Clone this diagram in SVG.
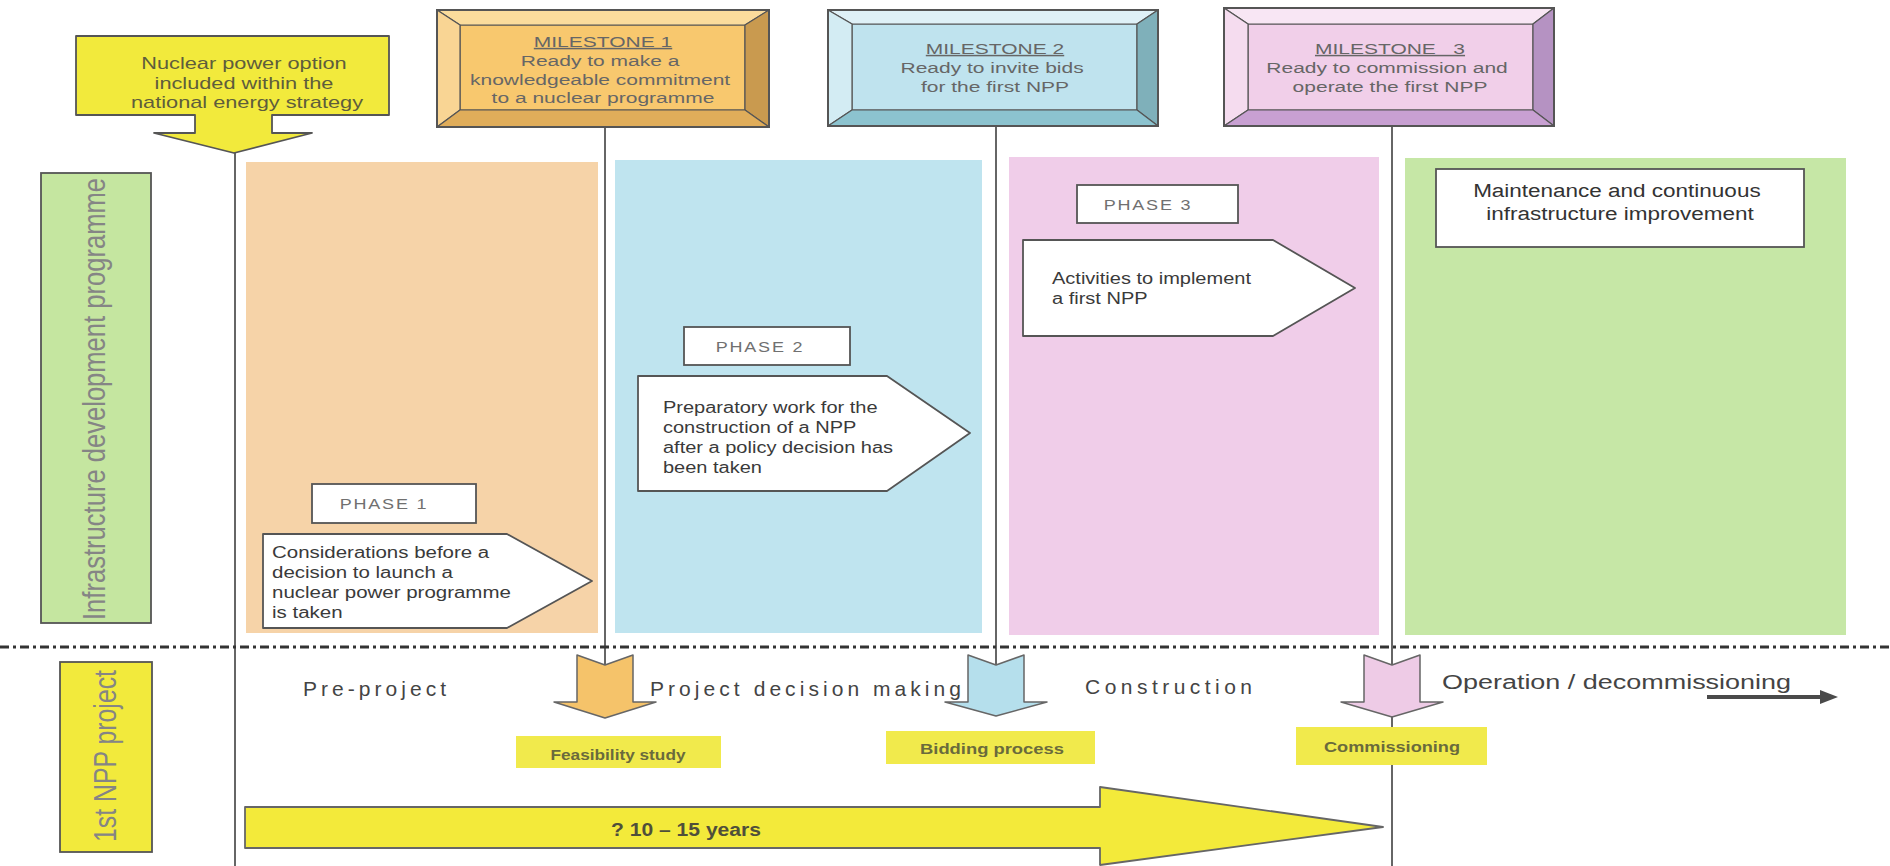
<svg xmlns="http://www.w3.org/2000/svg" width="1890" height="866" viewBox="0 0 1890 866">
<style>
text{font-family:"Liberation Sans",Arial,sans-serif}
.bv{stroke:#555;stroke-width:1.2;stroke-linejoin:round}
.ol{fill:none;stroke:#555;stroke-width:2}
.co{fill:#fff;stroke:#555;stroke-width:1.8;stroke-linejoin:round}
.ct{font-size:16px;fill:#3a3a3a}
.ph{font-size:15px;fill:#707070;letter-spacing:1.5px;text-anchor:middle}
.phb{fill:#fff;stroke:#555;stroke-width:1.8}
.ms{font-size:15px;fill:#666;text-anchor:middle}
.ln{stroke:#333;stroke-width:1.5;fill:none}
.bl{font-size:21px;fill:#444}
.yl{fill:#f1ea4c}
.yt{font-size:15px;font-weight:bold;fill:#6a6a3c;text-anchor:middle}
.vt{font-size:25px;fill:#858585;text-anchor:middle}
.da{stroke:#666;stroke-width:1.5;stroke-linejoin:round}
</style>
<rect width="1890" height="866" fill="#fff"/>

<!-- phase panels -->
<g id="panel-phase1"><rect x="246" y="162" width="352" height="471" fill="#f6d3a8"/></g>
<g id="panel-phase2"><rect x="615" y="160" width="367" height="473" fill="#bfe4ef"/></g>
<g id="panel-phase3"><rect x="1009" y="157" width="370" height="478" fill="#f0cde9"/></g>
<g id="panel-operation"><rect x="1405" y="158" width="441" height="477" fill="#c6e7a6"/></g>

<!-- connectors -->
<g id="connectors">
<line class="ln" x1="235" y1="153" x2="235" y2="866"/>
<line class="ln" x1="605" y1="127" x2="605" y2="665"/>
<line class="ln" x1="996" y1="126" x2="996" y2="665"/>
<line class="ln" x1="1392" y1="126" x2="1392" y2="866"/>
<line x1="0" y1="647" x2="1890" y2="647" stroke="#333" stroke-width="3" stroke-dasharray="9 4 3 4"/>
</g>

<!-- strategy arrow -->
<g id="node-strategy">
<path d="M76,36 H389 V115 H272 V133 H312 L234,153 L154,133 H195 V115 H76 Z" fill="#f2ea3c" stroke="#555" stroke-width="1.8" stroke-linejoin="round"/>
<text transform="matrix(1.36 0 0 1 247 0)" style="font-size:16px;fill:#5e5d3c;text-anchor:middle">
<tspan x="0" y="69">Nuclear power option</tspan>
<tspan x="0" y="89">included within the</tspan>
<tspan x="0" y="108">national energy strategy</tspan>
</text>
</g>

<!-- milestone 1 -->
<g id="node-milestone1">
<rect x="460" y="25" width="285" height="85" fill="#f8c86e" class="bv"/>
<polygon class="bv" points="437,10 769,10 745,25 460,25" fill="#fbdc9c"/>
<polygon class="bv" points="437,10 460,25 460,110 437,127" fill="#f9d594"/>
<polygon class="bv" points="769,10 769,127 745,110 745,25" fill="#c99a4f"/>
<polygon class="bv" points="437,127 460,110 745,110 769,127" fill="#e0ad5a"/>
<rect class="ol" x="437" y="10" width="332" height="117"/>
<text class="ms" transform="matrix(1.4 0 0 1 603 0)" text-decoration="underline" x="0" y="47">MILESTONE 1</text>
<text class="ms" transform="matrix(1.4 0 0 1 603 0)">
<tspan x="0" y="66">Ready to make a</tspan>
<tspan x="0" y="85">knowledgeable commitment</tspan>
<tspan x="0" y="103">to a nuclear programme</tspan>
</text>
</g>

<!-- milestone 2 -->
<g id="node-milestone2">
<rect x="852" y="24" width="285" height="86" fill="#bfe3ee" class="bv"/>
<polygon class="bv" points="828,10 1158,10 1137,24 852,24" fill="#dff1f7"/>
<polygon class="bv" points="828,10 852,24 852,110 828,126" fill="#d3ecf3"/>
<polygon class="bv" points="1158,10 1158,126 1137,110 1137,24" fill="#7fb0ba"/>
<polygon class="bv" points="828,126 852,110 1137,110 1158,126" fill="#8cc3cf"/>
<rect class="ol" x="828" y="10" width="330" height="116"/>
<text class="ms" transform="matrix(1.4 0 0 1 995 0)" text-decoration="underline" x="0" y="54">MILESTONE 2</text>
<text class="ms" transform="matrix(1.4 0 0 1 995 0)">
<tspan x="0" y="73">Ready to invite bids</tspan>
<tspan x="0" y="92">for the first NPP</tspan>
</text>
</g>

<!-- milestone 3 -->
<g id="node-milestone3">
<rect x="1248" y="24" width="285" height="86" fill="#f1cfe9" class="bv"/>
<polygon class="bv" points="1224,8 1554,8 1533,24 1248,24" fill="#f8e6f4"/>
<polygon class="bv" points="1224,8 1248,24 1248,110 1224,126" fill="#f5dcef"/>
<polygon class="bv" points="1554,8 1554,126 1533,110 1533,24" fill="#b592c2"/>
<polygon class="bv" points="1224,126 1248,110 1533,110 1554,126" fill="#c8a0d2"/>
<rect class="ol" x="1224" y="8" width="330" height="118"/>
<text class="ms" transform="matrix(1.4 0 0 1 1390 0)" text-decoration="underline" x="0" y="54" xml:space="preserve">MILESTONE   3</text>
<text class="ms" transform="matrix(1.4 0 0 1 1390 0)">
<tspan x="0" y="73">Ready to commission and</tspan>
<tspan x="0" y="92">operate the first NPP</tspan>
</text>
</g>

<!-- row labels -->
<g id="label-infrastructure">
<rect x="41" y="173" width="110" height="450" fill="#c5e6a0" stroke="#555" stroke-width="1.8"/>
<text class="vt" transform="translate(105,399) scale(1.25,1) rotate(-90)" x="0" y="0" textLength="442" lengthAdjust="spacingAndGlyphs">Infrastructure development programme</text>
</g>
<g id="label-npp">
<rect x="60" y="662" width="92" height="190" fill="#f2ea3c" stroke="#555" stroke-width="1.8"/>
<text class="vt" transform="translate(116,756) scale(1.25,1) rotate(-90)" x="0" y="0" textLength="172" lengthAdjust="spacingAndGlyphs">1st NPP project</text>
</g>

<!-- phase 1 -->
<g id="node-phase1">
<rect class="phb" x="312" y="484" width="164" height="39"/>
<text class="ph" transform="matrix(1.2 0 0 1 384 0)" x="0" y="509">PHASE 1</text>
<polygon class="co" points="263,534 507,534 592,581 507,628 263,628"/>
<text class="ct" transform="matrix(1.28 0 0 1 272 0)">
<tspan x="0" y="558">Considerations before a</tspan>
<tspan x="0" y="578">decision to launch a</tspan>
<tspan x="0" y="598">nuclear power programme</tspan>
<tspan x="0" y="618">is taken</tspan>
</text>
</g>

<!-- phase 2 -->
<g id="node-phase2">
<rect class="phb" x="684" y="327" width="166" height="38"/>
<text class="ph" transform="matrix(1.2 0 0 1 760 0)" x="0" y="352">PHASE 2</text>
<polygon class="co" points="638,376 887,376 970,433 887,491 638,491"/>
<text class="ct" transform="matrix(1.25 0 0 1 663 0)">
<tspan x="0" y="413">Preparatory work for the</tspan>
<tspan x="0" y="433">construction of a NPP</tspan>
<tspan x="0" y="453">after a policy decision has</tspan>
<tspan x="0" y="473">been taken</tspan>
</text>
</g>

<!-- phase 3 -->
<g id="node-phase3">
<rect class="phb" x="1077" y="185" width="161" height="38"/>
<text class="ph" transform="matrix(1.2 0 0 1 1148 0)" x="0" y="210">PHASE 3</text>
<polygon class="co" points="1023,240 1273,240 1355,288 1273,336 1023,336"/>
<text class="ct" transform="matrix(1.25 0 0 1 1052 0)">
<tspan x="0" y="284">Activities to implement</tspan>
<tspan x="0" y="304">a first NPP</tspan>
</text>
</g>

<!-- maintenance -->
<g id="node-maintenance">
<rect x="1436" y="169" width="368" height="78" fill="#fff" stroke="#555" stroke-width="1.8"/>
<text transform="matrix(1.25 0 0 1 1620 0)" style="font-size:18px;fill:#333;text-anchor:middle">
<tspan x="0" y="197">Maintenance and continuous</tspan>
<tspan x="0" y="220">infrastructure improvement</tspan>
</text>
</g>

<!-- bottom down arrows -->
<g id="node-arrow-feasibility">
<path class="da" d="M577,655 L605,665 L633,655 L633,702 L656,702 L605,718 L554,702 L577,702 Z" fill="#f5c36a"/>
</g>
<g id="node-arrow-bidding">
<path class="da" d="M968,655 L996,665 L1024,655 L1024,702 L1047,702 L996,716 L945,702 L968,702 Z" fill="#b5dfec"/>
</g>
<g id="node-arrow-commissioning">
<path class="da" d="M1364,655 L1392,665 L1420,655 L1420,702 L1443,702 L1392,717 L1341,702 L1364,702 Z" fill="#eecbe6"/>
</g>

<!-- stage labels -->
<g id="stage-labels">
<text class="bl" x="303" y="696" textLength="143" lengthAdjust="spacing">Pre-project</text>
<text class="bl" x="650" y="696" textLength="311" lengthAdjust="spacing">Project decision making</text>
<text class="bl" x="1085" y="694" textLength="167" lengthAdjust="spacing">Construction</text>
<text class="bl" x="1442" y="689" textLength="349" lengthAdjust="spacingAndGlyphs" style="font-size:20px">Operation / decommissioning</text>
<line x1="1707" y1="697" x2="1822" y2="697" stroke="#4a4a4a" stroke-width="4"/>
<polygon points="1820,690 1838,697 1820,704" fill="#4a4a4a"/>
</g>

<!-- yellow activity labels -->
<g id="node-feasibility">
<rect class="yl" x="516" y="736" width="205" height="32"/>
<text class="yt" x="618" y="760" textLength="135" lengthAdjust="spacingAndGlyphs">Feasibility study</text>
</g>
<g id="node-bidding">
<rect class="yl" x="886" y="731" width="209" height="33"/>
<text class="yt" x="992" y="754" textLength="144" lengthAdjust="spacingAndGlyphs">Bidding process</text>
</g>
<g id="node-commissioning">
<rect class="yl" x="1296" y="727" width="191" height="38"/>
<text class="yt" x="1392" y="752" textLength="136" lengthAdjust="spacingAndGlyphs">Commissioning</text>
</g>

<!-- duration arrow -->
<g id="node-duration">
<path d="M245,807 H1100 V787 L1383,827 L1100,865 V848 H245 Z" fill="#f3ea3a" stroke="#666" stroke-width="1.8" stroke-linejoin="round"/>
<text x="686" y="836" textLength="150" lengthAdjust="spacingAndGlyphs" style="font-size:18px;font-weight:bold;fill:#4f4f3a;text-anchor:middle">? 10 – 15 years</text>
</g>
</svg>
